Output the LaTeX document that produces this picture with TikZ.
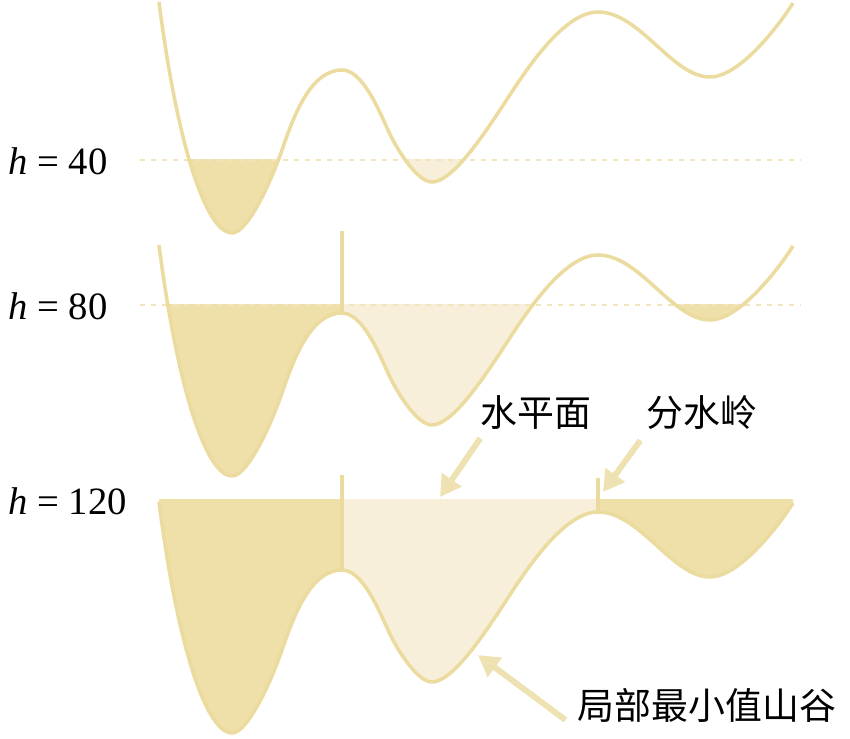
\documentclass[tikz,border=0pt]{standalone}
\usepackage{fontspec}
\setmainfont{Liberation Serif}
\newfontfamily\cjk{Noto Sans CJK SC}
\usetikzlibrary{positioning, arrows.meta}
\definecolor{BasinLine}{HTML}{EBDB9E}
\definecolor{BasinDark}{HTML}{EFDFA9}
\definecolor{BasinLight}{HTML}{F8EFDA}
\definecolor{LevelDash}{HTML}{F1E5BE}
\definecolor{PointerArrow}{HTML}{EEE2B3}
\tikzset{
    curveline/.style={line width=2pt, draw=BasinLine, line join=round},
    damline/.style={line width=2.2pt, draw=BasinLine},
    leveldash/.style={line width=1.1pt, draw=LevelDash, dash pattern=on 1.1mm off 1.1mm},
    waterdark/.style={fill=BasinDark},
    waterlight/.style={fill=BasinLight},
    hlabel/.style={anchor=base west, inner sep=0pt, font=\fontsize{22}{26}\selectfont},
    cnlabel/.style={inner sep=0pt, font=\cjk\fontsize{21}{24}\selectfont},
    pointer/.style={-{Triangle[length=4.2mm, width=4.6mm]}, line width=3.4pt, draw=PointerArrow}
}
% terrain profile, in pixel units (y grows downwards)
\newcommand{\valleycurve}{(159,2)
    .. controls (178,150) and (207,233) .. (232,233)
    .. controls (248,233) and (271.5,180.5) .. (282,150)
    .. controls (293,118) and (310,70) .. (342,70)
    .. controls (362,70) and (378,108) .. (388,130)
    .. controls (398,152) and (418,182) .. (432,182)
    .. controls (452,182) and (482,137) .. (500,110)
    .. controls (518,83) and (560,12) .. (598,12)
    .. controls (640,12) and (672,77) .. (710,77)
    .. controls (740,77) and (780,24) .. (793,3)}

\begin{document}
\begin{tikzpicture}[x=0.02cm, y=-0.02cm]
    \useasboundingbox (0,0) rectangle (850,739);

    % --- LEVEL h = 40 ---
    \begin{scope}
        \begin{scope}
            \clip (150,160) rectangle (300,760);
            \fill[waterdark] \valleycurve -- (793,-100) -- (159,-100) -- cycle;
        \end{scope}
        \begin{scope}
            \clip (380,160) rectangle (490,760);
            \fill[waterlight] \valleycurve -- (793,-100) -- (159,-100) -- cycle;
        \end{scope}
        \draw[leveldash] (140,160) -- (800,160);
        \draw[curveline] \valleycurve;
    \end{scope}
    \node[hlabel] (h40) at (8,175) {\textit{h} = 40};

    % --- LEVEL h = 80 ---
    \begin{scope}[shift={(0,243)}]
        \begin{scope}
            \clip (150,62) rectangle (342,760);
            \fill[waterdark] \valleycurve -- (793,-100) -- (159,-100) -- cycle;
        \end{scope}
        \begin{scope}
            \clip (342,62) rectangle (570,760);
            \fill[waterlight] \valleycurve -- (793,-100) -- (159,-100) -- cycle;
        \end{scope}
        \begin{scope}
            \clip (660,62) rectangle (770,760);
            \fill[waterdark] \valleycurve -- (793,-100) -- (159,-100) -- cycle;
        \end{scope}
        \draw[leveldash] (140,62) -- (800,62);
        \draw[curveline] \valleycurve;
        \draw[damline] (342,-12) -- (342,71);
    \end{scope}
    \node[hlabel] (h80) at (8,320) {\textit{h} = 80};

    % --- LEVEL h = 120 ---
    \begin{scope}[shift={(0,500)}]
        \begin{scope}
            \clip (150,0) rectangle (342,760);
            \fill[waterdark] \valleycurve -- (793,-100) -- (159,-100) -- cycle;
        \end{scope}
        \begin{scope}
            \clip (342,0) rectangle (598,760);
            \fill[waterlight] \valleycurve -- (793,-100) -- (159,-100) -- cycle;
        \end{scope}
        \begin{scope}
            \clip (598,0) rectangle (800,760);
            \fill[waterdark] \valleycurve -- (793,-100) -- (159,-100) -- cycle;
        \end{scope}
        \draw[curveline] \valleycurve;
        \draw[damline] (342,-25) -- (342,71);
        \draw[damline] (598,-22) -- (598,13);
    \end{scope}
    \node[hlabel] (h120) at (8,515) {\textit{h} = 120};

    % --- CALLOUTS ---
    \node[cnlabel] (lblsurface) at (536,413) {水平面};
    \node[cnlabel] (lblridge) at (702,413) {分水岭};
    \node[cnlabel] (lblvalley) at (707,705) {局部最小值山谷};
    \coordinate (surfacetip) at (440,497);
    \coordinate (ridgetip) at (603,492);
    \coordinate (valleytip) at (478,655);
    \draw[pointer] ([shift={(0,8)}]lblsurface.south west) -- (surfacetip);
    \draw[pointer] ([shift={(-6,10)}]lblridge.south west) -- (ridgetip);
    \draw[pointer] ([shift={(-12,15)}]lblvalley.west) -- (valleytip);

\end{tikzpicture}
\end{document}
